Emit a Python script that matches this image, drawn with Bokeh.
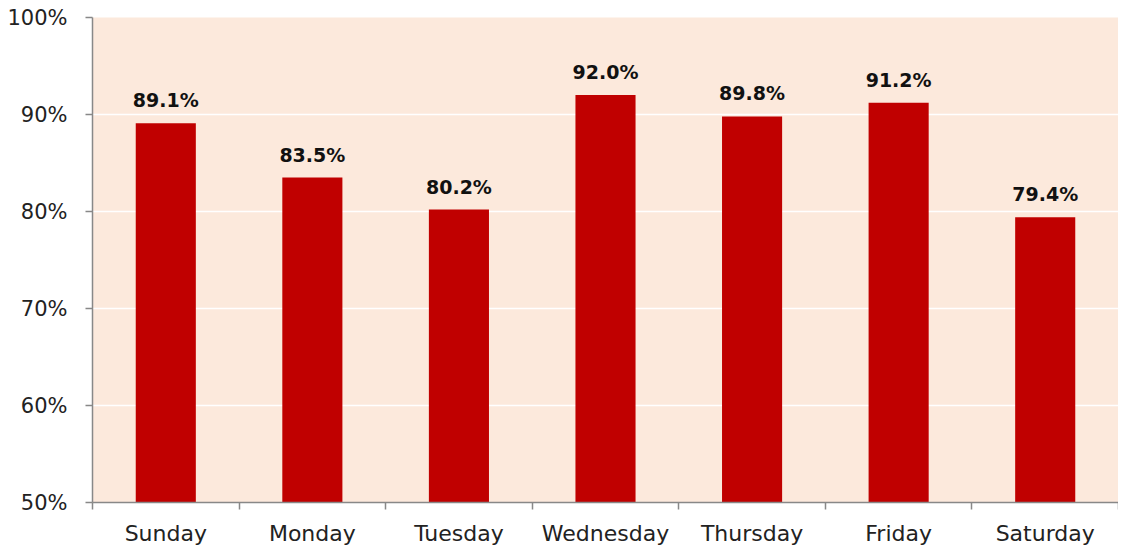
from bokeh.plotting import figure
from bokeh.models import ColumnDataSource, FixedTicker, Range1d, LabelSet
from bokeh.core.properties import value
from bokeh.embed import file_html
from bokeh.resources import INLINE

days = ["Sunday", "Monday", "Tuesday", "Wednesday", "Thursday", "Friday", "Saturday"]
rates = [89.1, 83.5, 80.2, 92.0, 89.8, 91.2, 79.4]
y_ticks = [50, 60, 70, 80, 90, 100]

xpos = [i + 0.5 for i in range(len(days))]
src = ColumnDataSource(dict(x=xpos, top=rates, label=[f"{v:.1f}%" for v in rates]))

p = figure(width=1118, height=548, output_backend="svg", toolbar_location=None,
           x_range=Range1d(0, len(days)), y_range=Range1d(50, 100),
           min_border_left=92, min_border_right=0, min_border_top=17, min_border_bottom=46)
p.background_fill_color = "#FCE9DC"
p.border_fill_color = "white"
p.outline_line_color = None

p.vbar(x="x", top="top", bottom=50, width=0.41, source=src, fill_color="#C00000", line_color=None)

labels = LabelSet(x="x", y="top", text="label", source=src, text_align="center", text_baseline="bottom",
                  y_offset=12, text_font=value("DejaVu Sans"), text_font_size="19px",
                  text_font_style="bold", text_color="#111111")
p.add_layout(labels)

# x axis
p.xaxis.ticker = FixedTicker(ticks=xpos, minor_ticks=list(range(len(days) + 1)))
p.xaxis.major_label_overrides = {x: d for x, d in zip(xpos, days)}
p.xaxis.major_tick_line_color = None
p.xaxis.major_tick_out = 0
p.xaxis.major_tick_in = 0
p.xaxis.minor_tick_line_color = "#888888"
p.xaxis.minor_tick_line_width = 1.5
p.xaxis.minor_tick_out = 7
p.xaxis.minor_tick_in = 0
p.xaxis.axis_line_color = "#888888"
p.xaxis.axis_line_width = 1.5
p.xaxis.major_label_standoff = 11
p.xaxis.major_label_text_font = "DejaVu Sans"
p.xaxis.major_label_text_font_size = "22px"
p.xaxis.major_label_text_color = "#222222"
p.xgrid.grid_line_color = None

# y axis
p.yaxis.ticker = FixedTicker(ticks=y_ticks)
p.yaxis.major_label_overrides = {t: f"{t}%" for t in y_ticks}
p.yaxis.minor_tick_line_color = None
p.yaxis.major_tick_line_color = "#888888"
p.yaxis.major_tick_line_width = 1.5
p.yaxis.major_tick_out = 7
p.yaxis.major_tick_in = 0
p.yaxis.axis_line_color = "#888888"
p.yaxis.axis_line_width = 1.5
p.yaxis.major_label_standoff = 18
p.yaxis.major_label_text_font = "DejaVu Sans"
p.yaxis.major_label_text_font_size = "21px"
p.yaxis.major_label_text_color = "#222222"
p.ygrid.grid_line_color = "white"
p.ygrid.grid_line_width = 1.5

open("out.html", "w").write(file_html(p, INLINE))
